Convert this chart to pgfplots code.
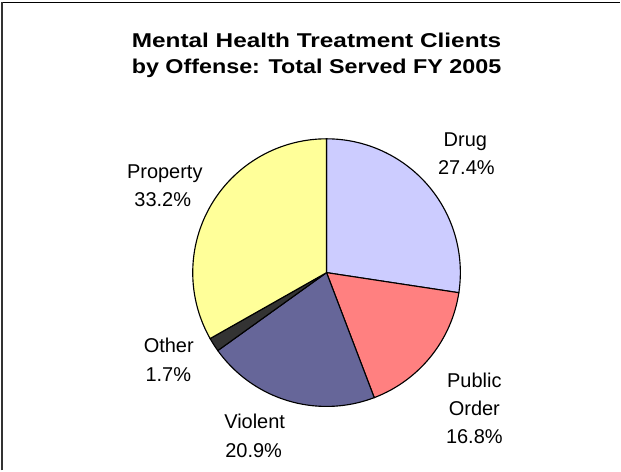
\documentclass[border=0pt]{standalone}
\usepackage{pgfplots}
\pgfplotsset{compat=1.18}
\usepackage{graphicx}
\usepackage{fontspec}
\setmainfont{Liberation Sans}
\definecolor{cDrug}{HTML}{CCCCFF}
\definecolor{cPub}{HTML}{FF8080}
\definecolor{cViol}{HTML}{666699}
\definecolor{cOth}{HTML}{333333}
\definecolor{cProp}{HTML}{FFFF99}
% shares (percent), clockwise from 12 o'clock
\def\vDrug{27.4}
\def\vPub{16.8}
\def\vViol{20.9}
\def\vOth{1.7}
\def\vProp{33.2}
\def\cx{327}
\def\cy{198}
\def\rr{134}
\begin{document}
\begin{tikzpicture}
\begin{axis}[
  width=465.75pt, height=353.25pt, scale only axis,
  xmin=0, xmax=621, ymin=0, ymax=471,
  hide axis, clip=false,
]
\path (axis cs:0,0) rectangle (axis cs:621,471);
% wedges
\pgfmathsetmacro{\aA}{90}
\pgfmathsetmacro{\aB}{90-3.6*\vDrug}
\pgfmathsetmacro{\aC}{\aB-3.6*\vPub}
\pgfmathsetmacro{\aD}{\aC-3.6*\vViol}
\pgfmathsetmacro{\aE}{\aD-3.6*\vOth}
\pgfmathsetmacro{\aF}{\aE-3.6*\vProp}
\addplot[fill=cDrug, draw=black, line width=0.85pt, domain=\aB:\aA, samples=80, variable=\t]
  ({\cx+\rr*cos(t)},{\cy+\rr*sin(t)}) -- (axis cs:\cx,\cy) -- cycle;
\addplot[fill=cPub, draw=black, line width=0.85pt, domain=\aC:\aB, samples=60, variable=\t]
  ({\cx+\rr*cos(t)},{\cy+\rr*sin(t)}) -- (axis cs:\cx,\cy) -- cycle;
\addplot[fill=cViol, draw=black, line width=0.85pt, domain=\aD:\aC, samples=60, variable=\t]
  ({\cx+\rr*cos(t)},{\cy+\rr*sin(t)}) -- (axis cs:\cx,\cy) -- cycle;
\addplot[fill=cOth, draw=black, line width=0.85pt, domain=\aE:\aD, samples=10, variable=\t]
  ({\cx+\rr*cos(t)},{\cy+\rr*sin(t)}) -- (axis cs:\cx,\cy) -- cycle;
\addplot[fill=cProp, draw=black, line width=0.85pt, domain=\aF:\aE, samples=80, variable=\t]
  ({\cx+\rr*cos(t)},{\cy+\rr*sin(t)}) -- (axis cs:\cx,\cy) -- cycle;
% frame (top and left edges visible)
\draw[black, line width=1.3pt] (axis cs:2,468.5) -- (axis cs:621,468.5);
\draw[black!80, line width=1.5pt] (axis cs:2.5,0) -- (axis cs:2.5,469);
% title
\node[anchor=base] at (axis cs:317,423) {\resizebox{277.5pt}{\height}{\fontsize{15}{20}\selectfont\bfseries Mental Health Treatment Clients}};
\node[anchor=base] at (axis cs:317,397) {\resizebox{277.5pt}{\height}{\fontsize{15}{20}\selectfont\bfseries by Offense: Total Served FY 2005}};
% labels
\tikzset{lbl/.style={anchor=base, font=\fontsize{15}{20}\selectfont}}
\node[lbl] at (axis cs:466,324.3) {Drug};
\node[lbl] at (axis cs:467,296) {27.4\%};
\node[lbl] at (axis cs:475,83.3) {Public};
\node[lbl] at (axis cs:475,55) {Order};
\node[lbl] at (axis cs:475,26.7) {16.8\%};
\node[lbl] at (axis cs:255,41.7) {Violent};
\node[lbl] at (axis cs:254,13.3) {20.9\%};
\node[lbl] at (axis cs:169,117.7) {Other};
\node[lbl] at (axis cs:168.5,88.5) {1.7\%};
\node[lbl] at (axis cs:165,292.7) {Property};
\node[lbl] at (axis cs:163,264.3) {33.2\%};
\end{axis}
\end{tikzpicture}
\end{document}
